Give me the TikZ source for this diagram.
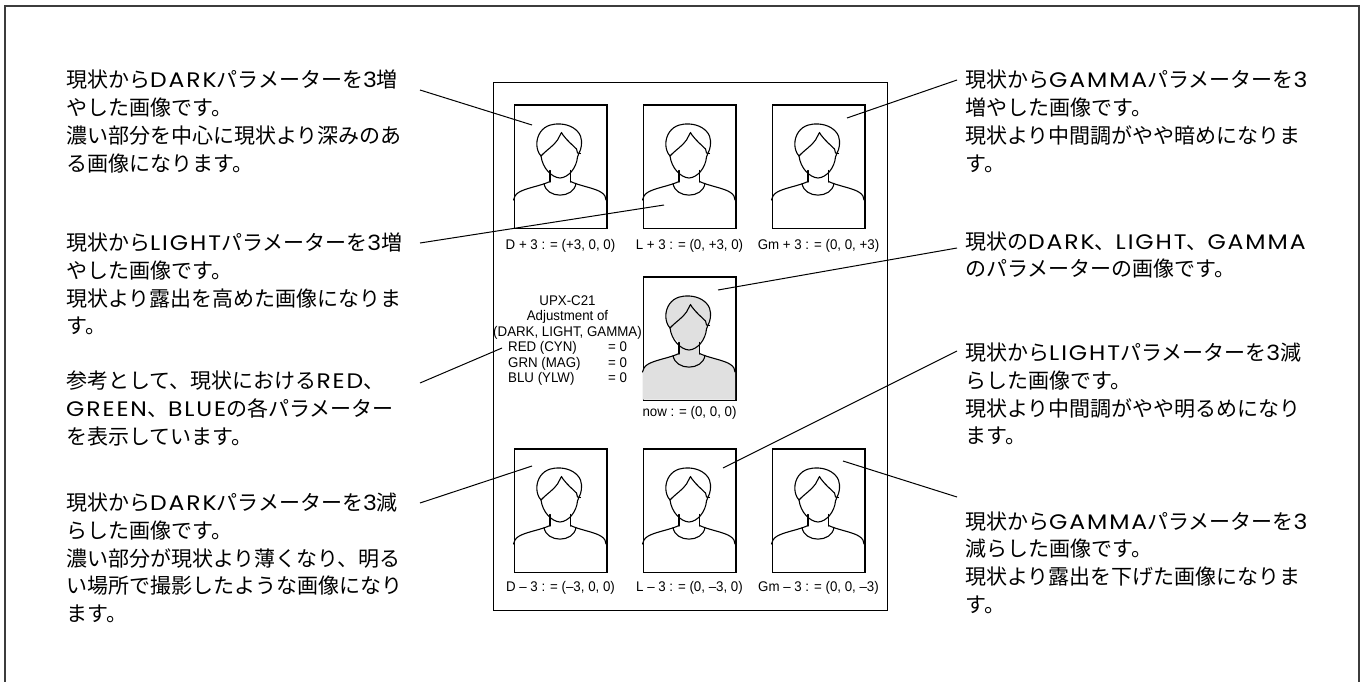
\documentclass[tikz,border=0pt]{standalone}
\usepackage{fontspec}
\usetikzlibrary{calc}
\newfontfamily\jpfont{Noto Sans CJK JP}
\newfontfamily\latfont{Poppins}[FakeStretch=1.12,LetterSpace=9]
\newfontfamily\capfont{Liberation Sans}[FakeStretch=0.95]
\newcommand\lat[1]{{\latfont\fontsize{21}{28}\selectfont #1}}
\newcommand\jl[1]{\hbox{#1}}
\newcommand\jblock[1]{\vtop{\baselineskip=27.8pt #1}}
\definecolor{framegray}{RGB}{60,60,60}
\definecolor{silgray}{RGB}{224,224,224}

% line work of one portrait; origin at the top left corner of the photo, y downwards
\newcommand\personlines{%
  % hair
  \draw[figline] (27.5,52) .. controls (22,46) and (22,35) .. (27,28)
    .. controls (32,21) and (40,19.5) .. (47,20)
    .. controls (56,20.5) and (64,25) .. (67,32)
    .. controls (69,38) and (68,45) .. (65.5,49) -- (64,53);
  % fringe
  \draw[figline] (27.5,52) .. controls (33,46) and (40,42) .. (44,36) -- (48,28.5)
    -- (49.5,31) .. controls (54,37) and (59,41) .. (63,45) -- (64,49) -- (67,49.5);
  % face
  \draw[figline] (27.5,52) .. controls (29,64) and (38,73.5) .. (46.5,74)
    .. controls (55,73.5) and (63,64) .. (64,53);
  % neck
  \draw[figline] (36.5,66.5) -- (36.5,78);
  \draw[figline] (57,66.5) -- (57,78);
  % collar
  \draw[figline] (30.5,79.5) .. controls (33,95) and (60,95) .. (62.5,79.5);
  % shoulders
  \draw[figline] (36.5,77.5) .. controls (27,82) and (12,84) .. (5,88.5)
    .. controls (2,90.5) and (0.5,93) .. (0,96);
  \draw[figline] (57,77.5) .. controls (66.5,82) and (81.5,84) .. (88,88.5)
    .. controls (91,90.5) and (92.5,93) .. (92.5,96);
}

\tikzset{
  figline/.style={line width=1.1pt, line join=round, line cap=round},
  person/.pic={\personlines},
  shadedperson/.pic={
    \fill[silgray] (0,123.5) -- (0,96) .. controls (0.5,93) and (2,90.5) .. (5,88.5)
      .. controls (12,84) and (27,82) .. (36.5,77.5) -- (36.5,66.5) -- (31,61) -- (27.5,52)
      .. controls (22,46) and (22,35) .. (27,28)
      .. controls (32,21) and (40,19.5) .. (47,20)
      .. controls (56,20.5) and (64,25) .. (67,32)
      .. controls (69,38) and (68,45) .. (65.5,49) -- (64,53) -- (62,61) -- (57,66.5)
      -- (57,77.5) .. controls (66.5,82) and (81.5,84) .. (88,88.5)
      .. controls (91,90.5) and (92.5,93) .. (92.5,96) -- (92.5,123.5) -- cycle;
    \personlines
  },
  photo/.style={draw, line width=1.5pt, minimum width=92.5pt, minimum height=123.5pt,
    inner sep=0pt},
  lead/.style={line width=1pt},
  jtext/.style={anchor=base west, inner sep=0pt,
    font=\jpfont\fontsize{21}{27.8}\selectfont},
  captext/.style={anchor=base, inner sep=0pt, font=\capfont\fontsize{14}{15.5}\selectfont},
  captextl/.style={captext, anchor=base west},
}

\begin{document}
\begin{tikzpicture}[x=1pt, y=-1pt]
\useasboundingbox (0,0) rectangle (1363,681);

% outer frame, open at the bottom
\draw[framegray, line width=1.3pt] (5,700) -- (5,6) -- (1359,6) -- (1359,700);

% print sheet
\node[draw, line width=1.3pt, minimum width=394pt, minimum height=528pt, inner sep=0pt,
  anchor=north west] (sheet) at (493,82) {};

% photos
\node[photo] (p1) at (560.5,166.5) {};
\node[photo] (p2) at (689.5,166.5) {};
\node[photo] (p3) at (818.5,166.5) {};
\node[photo] (pn) at (689.5,338.5) {};
\node[photo] (p4) at (560.5,510.5) {};
\node[photo] (p5) at (689.5,510.5) {};
\node[photo] (p6) at (818.5,510.5) {};
\pic at (p1.north west) {person};
\pic at (p2.north west) {person};
\pic at (p3.north west) {person};
\pic at (pn.north west) {shadedperson};
\pic at (p4.north west) {person};
\pic at (p5.north west) {person};
\pic at (p6.north west) {person};

% captions
\node[captext] (c1) at (560.5,249) {D + 3 : = (+3, 0, 0)};
\node[captext] (c2) at (689.5,249) {L + 3 : = (0, +3, 0)};
\node[captext] (c3) at (818.5,249) {Gm + 3 : = (0, 0, +3)};
\node[captext] (cn) at (689.5,416) {now : = (0, 0, 0)};
\node[captext] (c4) at (560.5,591) {D – 3 : = (–3, 0, 0)};
\node[captext] (c5) at (689.5,591) {L – 3 : = (0, –3, 0)};
\node[captext] (c6) at (818.5,591) {Gm – 3 : = (0, 0, –3)};

% current settings
\node[captext] (u1) at (567.5,305) {UPX-C21};
\node[captext] (u2) at (567.5,320.5) {Adjustment of};
\node[captext] (u3) at (567.5,336) {(DARK, LIGHT, GAMMA)};
\node[captextl] (r1) at (508,351.5) {RED (CYN)};
\node[captextl] (g1) at (508,367) {GRN (MAG)};
\node[captextl] (b1) at (508,382.5) {BLU (YLW)};
\node[captextl] (r2) at (608,351.5) {= 0};
\node[captextl] (g2) at (608,367) {= 0};
\node[captextl] (b2) at (608,382.5) {= 0};

% notes, left
\node[jtext] (t1) at (66,87.6) {\jblock{%
  \jl{現状から\lat{DARK}パラメーターを\lat{3}増}
  \jl{やした画像です。}
  \jl{濃い部分を中心に現状より深みのあ}
  \jl{る画像になります。}}};
\node[jtext] (t2) at (66,250.5) {\jblock{%
  \jl{現状から\lat{LIGHT}パラメーターを\lat{3}増}
  \jl{やした画像です。}
  \jl{現状より露出を高めた画像になりま}
  \jl{す。}}};
\node[jtext] (t3) at (66,388.5) {\jblock{%
  \jl{参考として、現状における\lat{RED}、}
  \jl{\lat{GREEN}、\lat{BLUE}の各パラメーター}
  \jl{を表示しています。}}};
\node[jtext] (t4) at (66,510.5) {\jblock{%
  \jl{現状から\lat{DARK}パラメーターを\lat{3}減}
  \jl{らした画像です。}
  \jl{濃い部分が現状より薄くなり、明る}
  \jl{い場所で撮影したような画像になり}
  \jl{ます。}}};

% notes, right
\node[jtext] (t5) at (965,87.6) {\jblock{%
  \jl{現状から\lat{GAMMA}パラメーターを\lat{3}}
  \jl{増やした画像です。}
  \jl{現状より中間調がやや暗めになりま}
  \jl{す。}}};
\node[jtext] (t6) at (965,249) {\jblock{%
  \jl{現状の\lat{DARK}、\lat{LIGHT}、\lat{GAMMA}}
  \jl{のパラメーターの画像です。}}};
\node[jtext] (t7) at (965,360.5) {\jblock{%
  \jl{現状から\lat{LIGHT}パラメーターを\lat{3}減}
  \jl{らした画像です。}
  \jl{現状より中間調がやや明るめになり}
  \jl{ます。}}};
\node[jtext] (t8) at (965,529) {\jblock{%
  \jl{現状から\lat{GAMMA}パラメーターを\lat{3}}
  \jl{減らした画像です。}
  \jl{現状より露出を下げた画像になりま}
  \jl{す。}}};

% leader lines
\coordinate (a1) at (420,90);   \coordinate (e1) at (532,125);
\coordinate (a2) at (420,243);  \coordinate (e2) at (664,205);
\coordinate (a3) at (420,383);  \coordinate (e3) at (502,348);
\coordinate (a4) at (420,503);  \coordinate (e4) at (532,466);
\coordinate (a5) at (957,80);   \coordinate (e5) at (847,118);
\coordinate (a6) at (957,248);  \coordinate (e6) at (718,290);
\coordinate (a7) at (957,351);  \coordinate (e7) at (723,468);
\coordinate (a8) at (957,497);  \coordinate (e8) at (843,461);
\foreach \i in {1,...,8} {\draw[lead] (a\i) -- (e\i);}
\end{tikzpicture}
\end{document}
